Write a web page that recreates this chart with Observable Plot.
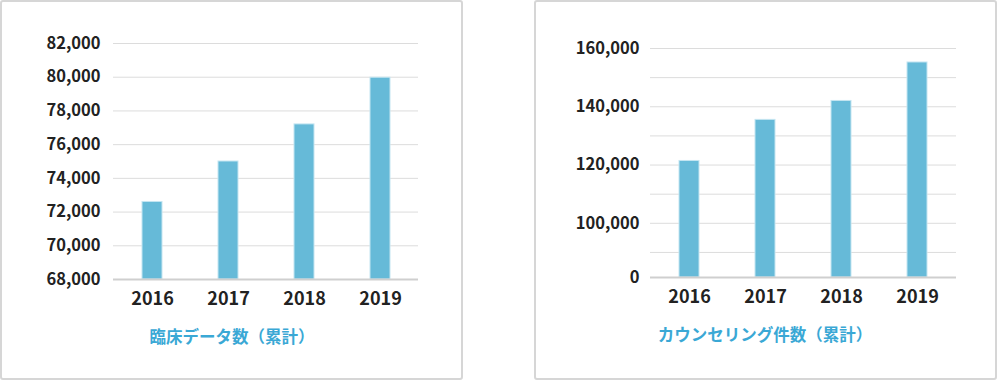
<!DOCTYPE html>
<html lang="ja">
<head>
<meta charset="utf-8">
<script src="https://cdn.jsdelivr.net/npm/d3@7"></script>
<script src="https://cdn.jsdelivr.net/npm/@observablehq/plot@0.6"></script>
<style>
  html, body { margin: 0; padding: 0; background: #fff; }
  body { width: 997px; height: 381px; position: relative; overflow: hidden;
         font-family: "Noto Sans CJK JP", "Noto Sans", sans-serif; }
  .panel { position: absolute; top: 0; width: 463px; height: 380px; box-sizing: border-box;
           border: 2px solid #d6d6d6; border-radius: 3px; background: #fff; }
  .chart { position: absolute; top: 0; }
  .title { position: absolute; transform: translate(-50%, -50%); white-space: nowrap;
           color: #3aa8d5; font-weight: bold; font-size: 16.5px; }
  svg text { font-family: "Noto Sans CJK JP", "Noto Sans", sans-serif; }
</style>
</head>
<body>
<div class="panel" style="left:0"></div>
<div class="panel" style="left:534px"></div>
<div id="c1" class="chart" style="left:0"></div>
<div id="c2" class="chart" style="left:534px"></div>
<div class="title" style="left:232px; top:336px">臨床データ数（累計）</div>
<div class="title" style="left:765px; top:334px">カウンセリング件数（累計）</div>
<script>
// ---- data ----
const years = ["2016", "2017", "2018", "2019"];
const clinicalData = [72600, 75000, 77200, 79970];
const counselingCases = [121400, 135500, 142000, 155200];

const clinicalTicks = [68000, 70000, 72000, 74000, 76000, 78000, 80000, 82000];
const clinicalTickLabels = ["68,000", "70,000", "72,000", "74,000", "76,000", "78,000", "80,000", "82,000"];

const counselingFloor = 81400; // broken axis floor shown as "0"
const counselingGrid = [90000, 100000, 110000, 120000, 130000, 140000, 150000, 160000];
const counselingTicks = [81400, 100000, 120000, 140000, 160000];
const counselingTickLabels = ["0", "100,000", "120,000", "140,000", "160,000"];

const barColor = "#66bad8";
const barEdge = "#c4e5f1";

function makeChart({values, yDomain, grid, ticks, labels, marginLeft, marginRight, marginTop, marginBottom, yPad}) {
  const rows = years.map((y, i) => ({year: y, value: values[i]}));
  const labelMap = new Map(ticks.map((t, i) => [t, labels[i]]));
  return Plot.plot({
    width: 463,
    height: 320,
    marginLeft, marginRight, marginTop, marginBottom,
    style: {background: "transparent", color: "#222", fontSize: "16px", fontWeight: "bold", overflow: "visible"},
    x: {domain: years, paddingInner: 0.74, paddingOuter: 0.37, label: null},
    y: {domain: yDomain, label: null},
    marks: [
      Plot.ruleY(grid, {stroke: "#dcdcdc", strokeWidth: 1}),
      Plot.barY(rows, {x: "year", y1: yDomain[0], y2: "value", fill: barColor, stroke: barEdge, strokeWidth: 1}),
      Plot.ruleY([yDomain[0]], {stroke: "#cfcfcf", strokeWidth: 2}),
      Plot.axisX({tickSize: 0, tickPadding: 13, fontSize: 18, fontWeight: "bold", label: null}),
      Plot.axisY({ticks: ticks, tickSize: 0, tickPadding: yPad, fontSize: 16.5, fontWeight: "bold", label: null, tickFormat: d => labelMap.get(d)})
    ]
  });
}

document.getElementById("c1").appendChild(makeChart({
  values: clinicalData,
  yDomain: [68000, 82000],
  grid: clinicalTicks.slice(1),
  ticks: clinicalTicks,
  labels: clinicalTickLabels,
  marginLeft: 113, marginRight: 45, marginTop: 43, marginBottom: 41, yPad: 13
}));

document.getElementById("c2").appendChild(makeChart({
  values: counselingCases,
  yDomain: [counselingFloor, 160000],
  grid: counselingGrid,
  ticks: counselingTicks,
  labels: counselingTickLabels,
  marginLeft: 116, marginRight: 41, marginTop: 48, marginBottom: 43, yPad: 11
}));
</script>
</body>
</html>
